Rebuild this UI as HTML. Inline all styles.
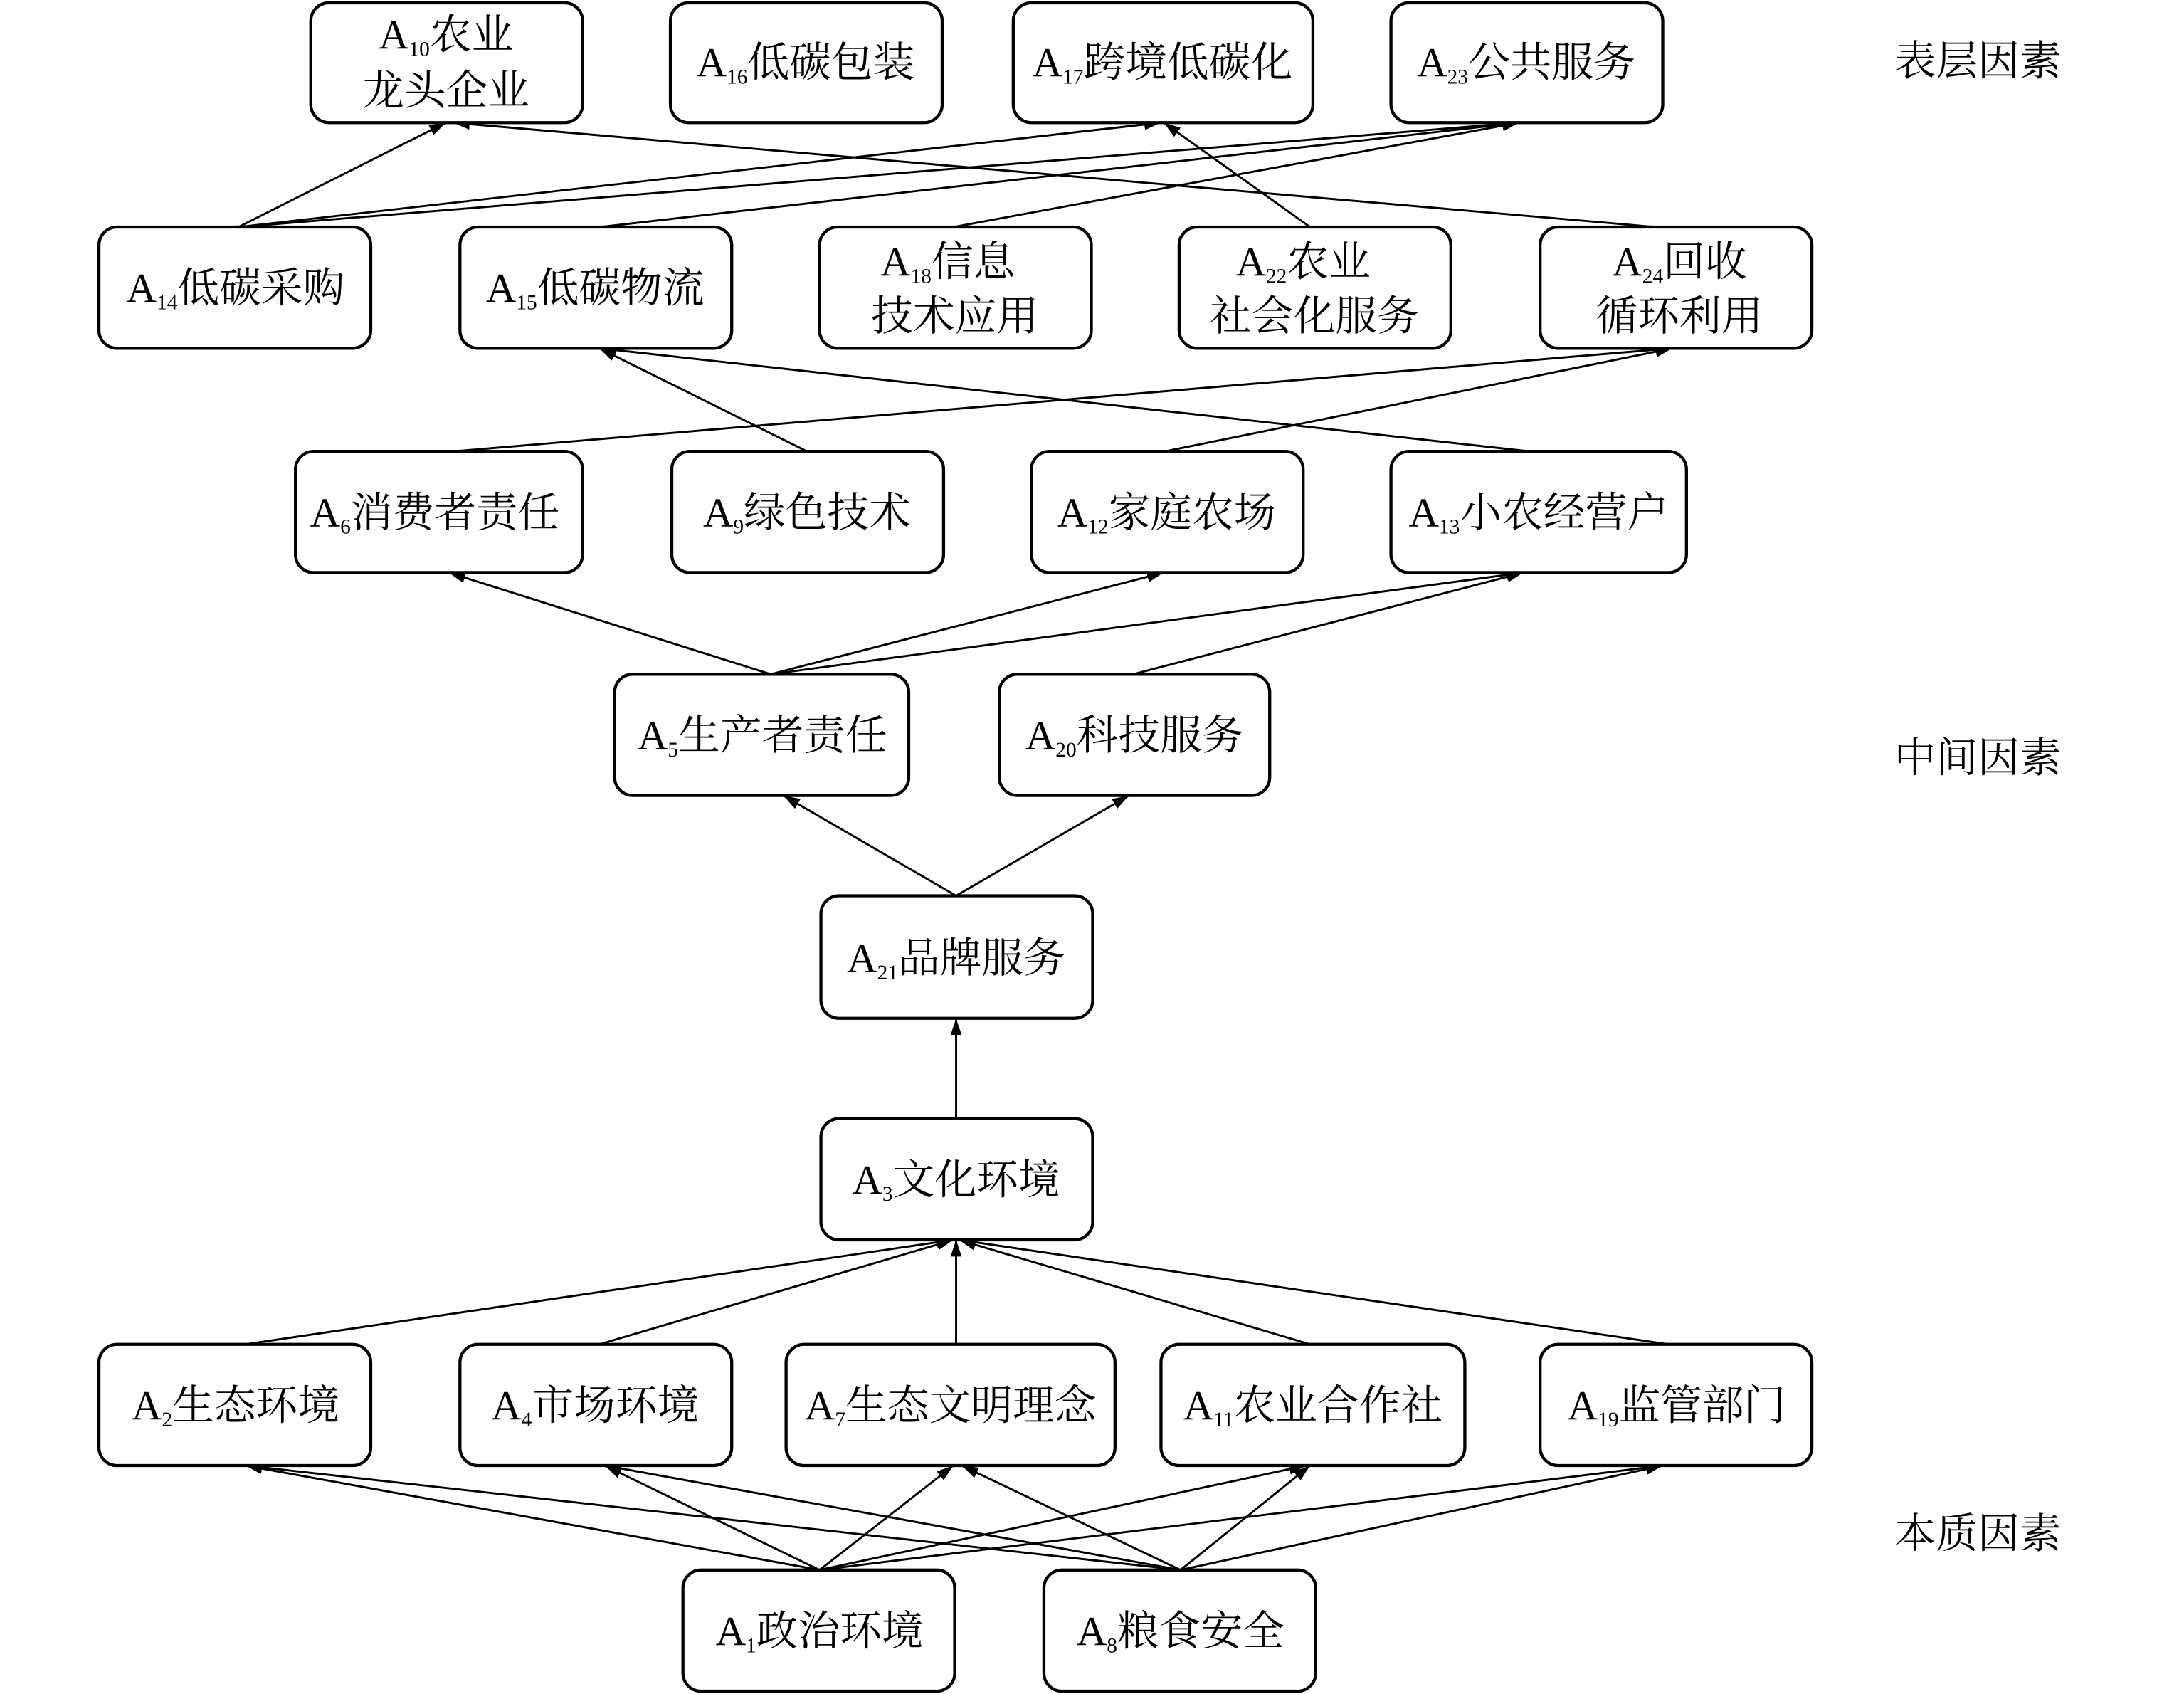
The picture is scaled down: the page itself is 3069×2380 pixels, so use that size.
<!DOCTYPE html>
<html><head><meta charset="utf-8"><style>
html,body{margin:0;padding:0;background:#fff;}
svg{display:block;}
text{font-family:"Liberation Serif","Noto Serif CJK SC",serif;font-size:30px;fill:#000;}
.s{font-size:15px;}
</style></head><body>
<svg width="3069" height="2380" viewBox="0 0 1567 1216" preserveAspectRatio="none" xmlns="http://www.w3.org/2000/svg">
<defs>
<marker id="ar" markerWidth="12" markerHeight="8" refX="12" refY="4" orient="auto" markerUnits="userSpaceOnUse">
<path d="M0,0 L12,4 L0,8 Z" fill="#000"/>
</marker>
</defs>
<g stroke="#000" stroke-width="1.5" fill="none" marker-end="url(#ar)">
<line x1="588" y1="1127" x2="176" y2="1052"/>
<line x1="588" y1="1127" x2="434" y2="1052"/>
<line x1="588" y1="1127" x2="684" y2="1052"/>
<line x1="588" y1="1127" x2="937" y2="1052"/>
<line x1="588" y1="1127" x2="1193" y2="1052"/>
<line x1="847" y1="1127" x2="176" y2="1052"/>
<line x1="847" y1="1127" x2="434" y2="1052"/>
<line x1="847" y1="1127" x2="690" y2="1052"/>
<line x1="847" y1="1127" x2="940" y2="1052"/>
<line x1="847" y1="1127" x2="1193" y2="1052"/>
<line x1="176" y1="965" x2="684" y2="890"/>
<line x1="430" y1="965" x2="684" y2="890"/>
<line x1="686" y1="965" x2="686" y2="890"/>
<line x1="940" y1="965" x2="688" y2="890"/>
<line x1="1197" y1="965" x2="688" y2="890"/>
<line x1="686" y1="803" x2="686" y2="731"/>
<line x1="686" y1="643" x2="562" y2="571"/>
<line x1="686" y1="643" x2="810" y2="571"/>
<line x1="553" y1="484" x2="322" y2="411"/>
<line x1="553" y1="484" x2="835" y2="411"/>
<line x1="553" y1="484" x2="1093" y2="411"/>
<line x1="813" y1="484" x2="1093" y2="411"/>
<line x1="326" y1="324" x2="1200" y2="250"/>
<line x1="579" y1="324" x2="430" y2="250"/>
<line x1="836" y1="324" x2="1200" y2="250"/>
<line x1="1097" y1="324" x2="430" y2="250"/>
<line x1="171" y1="163" x2="320" y2="88"/>
<line x1="171" y1="163" x2="833" y2="88"/>
<line x1="171" y1="163" x2="1090" y2="88"/>
<line x1="430" y1="163" x2="1090" y2="88"/>
<line x1="684" y1="163" x2="1090" y2="88"/>
<line x1="940" y1="163" x2="835" y2="88"/>
<line x1="1188" y1="163" x2="325" y2="88"/>
</g>
<g stroke="#000" stroke-width="2.2" fill="#fff">
<rect x="223" y="2" width="195" height="86" rx="13"/>
<rect x="481" y="2" width="195" height="86" rx="13"/>
<rect x="727" y="2" width="215" height="86" rx="13"/>
<rect x="998" y="2" width="195" height="86" rx="13"/>
<rect x="71" y="163" width="195" height="87" rx="13"/>
<rect x="330" y="163" width="195" height="87" rx="13"/>
<rect x="588" y="163" width="195" height="87" rx="13"/>
<rect x="846" y="163" width="195" height="87" rx="13"/>
<rect x="1105" y="163" width="195" height="87" rx="13"/>
<rect x="212" y="324" width="206" height="87" rx="13"/>
<rect x="482" y="324" width="195" height="87" rx="13"/>
<rect x="740" y="324" width="195" height="87" rx="13"/>
<rect x="998" y="324" width="212" height="87" rx="13"/>
<rect x="441" y="484" width="211" height="87" rx="13"/>
<rect x="717" y="484" width="194" height="87" rx="13"/>
<rect x="589" y="643" width="195" height="88" rx="13"/>
<rect x="589" y="803" width="195" height="87" rx="13"/>
<rect x="71" y="965" width="195" height="87" rx="13"/>
<rect x="330" y="965" width="195" height="87" rx="13"/>
<rect x="564" y="965" width="236" height="87" rx="13"/>
<rect x="833" y="965" width="218" height="87" rx="13"/>
<rect x="1105" y="965" width="195" height="87" rx="13"/>
<rect x="490" y="1127" width="195" height="87" rx="13"/>
<rect x="749" y="1127" width="195" height="87" rx="13"/>
</g>
<g text-anchor="middle">
<text x="320" y="35">A<tspan class="s" dy="5">10</tspan><tspan dy="-5">农业</tspan></text>
<text x="320" y="75">龙头企业</text>
<text x="578" y="55">A<tspan class="s" dy="5">16</tspan><tspan dy="-5">低碳包装</tspan></text>
<text x="834" y="55">A<tspan class="s" dy="5">17</tspan><tspan dy="-5">跨境低碳化</tspan></text>
<text x="1095" y="55">A<tspan class="s" dy="5">23</tspan><tspan dy="-5">公共服务</tspan></text>
<text x="169" y="217">A<tspan class="s" dy="5">14</tspan><tspan dy="-5">低碳采购</tspan></text>
<text x="427" y="217">A<tspan class="s" dy="5">15</tspan><tspan dy="-5">低碳物流</tspan></text>
<text x="680" y="198">A<tspan class="s" dy="5">18</tspan><tspan dy="-5">信息</tspan></text>
<text x="685" y="237">技术应用</text>
<text x="935" y="198">A<tspan class="s" dy="5">22</tspan><tspan dy="-5">农业</tspan></text>
<text x="943" y="237">社会化服务</text>
<text x="1205" y="198">A<tspan class="s" dy="5">24</tspan><tspan dy="-5">回收</tspan></text>
<text x="1205" y="237">循环利用</text>
<text x="312" y="378">A<tspan class="s" dy="5">6</tspan><tspan dy="-5">消费者责任</tspan></text>
<text x="579" y="378">A<tspan class="s" dy="5">9</tspan><tspan dy="-5">绿色技术</tspan></text>
<text x="837" y="378">A<tspan class="s" dy="5">12</tspan><tspan dy="-5">家庭农场</tspan></text>
<text x="1104" y="378">A<tspan class="s" dy="5">13</tspan><tspan dy="-5">小农经营户</tspan></text>
<text x="547" y="538">A<tspan class="s" dy="5">5</tspan><tspan dy="-5">生产者责任</tspan></text>
<text x="814" y="538">A<tspan class="s" dy="5">20</tspan><tspan dy="-5">科技服务</tspan></text>
<text x="686" y="698">A<tspan class="s" dy="5">21</tspan><tspan dy="-5">品牌服务</tspan></text>
<text x="686" y="857">A<tspan class="s" dy="5">3</tspan><tspan dy="-5">文化环境</tspan></text>
<text x="169" y="1019">A<tspan class="s" dy="5">2</tspan><tspan dy="-5">生态环境</tspan></text>
<text x="427" y="1019">A<tspan class="s" dy="5">4</tspan><tspan dy="-5">市场环境</tspan></text>
<text x="682" y="1019">A<tspan class="s" dy="5">7</tspan><tspan dy="-5">生态文明理念</tspan></text>
<text x="942" y="1019">A<tspan class="s" dy="5">11</tspan><tspan dy="-5">农业合作社</tspan></text>
<text x="1203" y="1019">A<tspan class="s" dy="5">19</tspan><tspan dy="-5">监管部门</tspan></text>
<text x="588" y="1181">A<tspan class="s" dy="5">1</tspan><tspan dy="-5">政治环境</tspan></text>
<text x="847" y="1181">A<tspan class="s" dy="5">8</tspan><tspan dy="-5">粮食安全</tspan></text>
<text x="1419" y="54">表层因素</text>
<text x="1419" y="554">中间因素</text>
<text x="1419" y="1111">本质因素</text>
</g>
</svg>
</body></html>
